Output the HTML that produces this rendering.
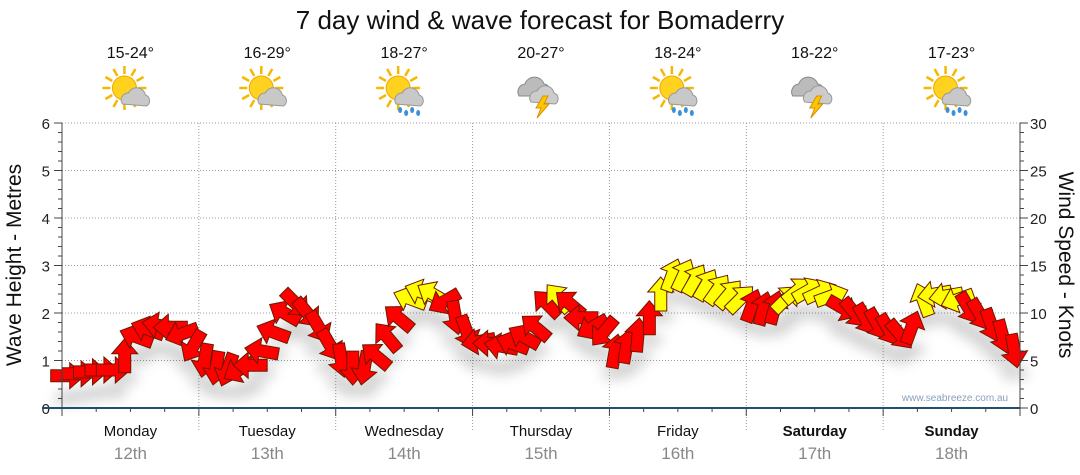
<!DOCTYPE html>
<html><head><meta charset="utf-8"><style>
body{margin:0;background:#fff;font-family:"Liberation Sans",sans-serif}
svg{display:block}
</style></head><body>
<svg id="c" width="1080" height="475" xmlns="http://www.w3.org/2000/svg">
<defs>
<filter id="sh" x="-50%" y="-50%" width="200%" height="200%"><feGaussianBlur stdDeviation="6"/></filter>
</defs>
<text x="540" y="29" font-size="26" text-anchor="middle" fill="#111">7 day wind &amp; wave forecast for Bomaderry</text>
<g id="grid"></g>
<g id="shadow" filter="url(#sh)" opacity="0.25"></g>
<g id="arrows"></g>
<g id="axes"></g>
<g id="days"></g>
<text x="955" y="401" font-size="10" fill="#8aa0b8" text-anchor="middle">www.seabreeze.com.au</text>
<text transform="translate(21,265) rotate(-90)" font-size="21" text-anchor="middle" fill="#111">Wave Height - Metres</text>
<text transform="translate(1059,265) rotate(90)" font-size="21" text-anchor="middle" fill="#111">Wind Speed - Knots</text>
</svg>
<script>
const dayNames=["Monday","Tuesday","Wednesday","Thursday","Friday","Saturday","Sunday"];
const dayDates=["12th","13th","14th","15th","16th","17th","18th"];
const temps=["15-24°","16-29°","18-27°","20-27°","18-24°","18-22°","17-23°"];
const icons=["suncloud","suncloud","sunrain","storm","sunrain","storm","sunrain"];
const leftTicks=[0,1,2,3,4,5,6];
const rightTicks=[0,5,10,15,20,25,30];
// wind speed (knots) every 2 hours, 12 per day
const windSpeed=[3.4,3.6,3.8,4,4,5.5,7.5,8.3,8.7,8.5,7.8,6.5,
 5,4.2,4,4,4.5,6,8,10,11,10,8.5,6.6,
 5,4.2,4.2,5.5,7.5,9.5,11.5,12.2,12,11.2,9.5,8,
 7,6.8,6.5,6.8,7.5,8.5,11,11.6,11,9.5,8.5,8,
 6,6.5,7.7,9.5,12,14,14,13.5,13,12.5,12,11.5,
 10.8,10.5,10.6,11.5,12.4,12.4,12.2,11.8,10.5,10,9.3,8.8,
 8.2,7.7,8.5,11.4,12,11.8,11.4,10.5,9.8,8.7,7.5,6];
// arrow heading in screen degrees (0 = right, 90 = down)
const windDir=[0,0,0,0,0,-90,200,200,190,180,160,120,
 100,100,110,150,180,190,200,210,45,50,60,60,
 80,90,100,220,230,220,200,200,210,150,80,70,
 170,180,190,200,210,220,-135,-130,-140,180,150,130,
 -80,-80,-85,-90,-90,-70,-65,-60,-60,-55,-50,-45,
 -70,-75,-75,-45,-40,-30,-25,-20,30,50,60,60,
 60,50,-70,-110,170,170,160,60,60,70,75,80];
const X0=62,X1=1020,Y0=408,Y1=123,DW=(X1-X0)/7;
const yM=m=>Y0-(Y0-Y1)*m/6, yK=k=>Y0-(Y0-Y1)*k/30;
const xi=i=>X0+(i*2+1)*DW/24;
const NS="http://www.w3.org/2000/svg";
function mk(tag,attrs,parent){const e=document.createElementNS(NS,tag);for(const k in attrs)e.setAttribute(k,attrs[k]);parent.appendChild(e);return e;}
const grid=document.getElementById('grid'),axes=document.getElementById('axes'),days=document.getElementById('days');
leftTicks.forEach((m,i)=>{
 if(m>0){const l=mk('line',{x1:X0,x2:X1,y1:yM(m),y2:yM(m),stroke:'#999','stroke-dasharray':'1,2'},grid);
 }
 const t=mk('text',{x:50,y:yM(m)+6,'font-size':15,'text-anchor':'end',fill:'#222'},axes);t.textContent=m;
 
});
rightTicks.forEach(k=>{const t=mk('text',{x:1030,y:yK(k)+6,'font-size':15,fill:'#222'},axes);t.textContent=k;
 });
for(let d=1;d<7;d++){const l=mk('line',{x1:X0+d*DW,x2:X0+d*DW,y1:Y1,y2:Y0+22,stroke:'#999','stroke-dasharray':'1,2'},grid);
 }
mk('line',{x1:X0,x2:X0,y1:Y1,y2:Y0,stroke:'#444'},axes);
mk('line',{x1:X1,x2:X1,y1:Y1,y2:Y0,stroke:'#444'},axes);
for(let m=0;m<=6.001;m+=0.2){mk('line',{x1:X0-(Math.abs(m-Math.round(m))<0.01?8:4),x2:X0,y1:yM(m),y2:yM(m),stroke:'#444'},axes);}
for(let k=0;k<=30;k++){mk('line',{x1:X1,x2:X1+(k%5?4:8),y1:yK(k),y2:yK(k),stroke:'#444'},axes);}
const xa=mk('line',{x1:X0-20,x2:X1,y1:Y0,y2:Y0,stroke:'#1f4e6e','stroke-width':2},axes);

for(let h=0;h<=7*24;h+=6){mk('line',{x1:X0+h*DW/24,x2:X0+h*DW/24,y1:Y0,y2:Y0+(h%24?4:8),stroke:'#444'},axes);}
dayNames.forEach((n,d)=>{const cx=X0+(d+0.5)*DW;
 const t=mk('text',{x:cx,y:436,'font-size':15,'text-anchor':'middle',fill:'#111','font-weight':d>=5?'bold':'normal'},days);t.textContent=n;
 
 const t2=mk('text',{x:cx,y:459,'font-size':17,'text-anchor':'middle',fill:'#888'},days);t2.textContent=dayDates[d];
 
 const t3=mk('text',{x:cx,y:58,'font-size':16,'text-anchor':'middle',fill:'#111'},days);t3.textContent=temps[d];
 
 const g=mk('g',{transform:`translate(${cx},92)`},days);
 
 const ic=icons[d];
 if(ic!=='storm'){
  for(let a=0;a<360;a+=30){const r=a*Math.PI/180;mk('line',{x1:-6+Math.cos(r)*14,y1:-4+Math.sin(r)*14,x2:-6+Math.cos(r)*22,y2:-4+Math.sin(r)*22,stroke:'#f5b800','stroke-width':2.5},g);}
  mk('circle',{cx:-6,cy:-4,r:12,fill:'#ffd21f',stroke:'#f0a800'},g);
  mk('path',{d:'M-8 12 a7 7 0 0 1 6-11 a9 9 0 0 1 17 2 a6 6 0 0 1 1 11 z',fill:'#c8c8c8',stroke:'#999'},g);
  if(ic==='sunrain'){for(let j=0;j<4;j++)mk('ellipse',{cx:-4+j*6,cy:18+(j%2)*3,rx:2,ry:3,fill:'#3c8fd8'},g);}
 }else{
  mk('path',{d:'M-22 4 a8 8 0 0 1 6-12 a10 10 0 0 1 19 0 a7 7 0 0 1 4 12 z',fill:'#bbb',stroke:'#888'},g);
  mk('path',{d:'M-10 10 a7 7 0 0 1 6-11 a9 9 0 0 1 17 2 a6 6 0 0 1 1 11 z',fill:'#ccc',stroke:'#999'},g);
  mk('path',{d:'M2 4 L-5 16 L0 16 L-4 26 L8 12 L3 12 L7 4 z',fill:'#ffc600',stroke:'#d89000'},g);
 }
});
const arrows=document.getElementById('arrows'),shadow=document.getElementById('shadow');
const shape='M17 0 L2 -13 L2 -6 L-17 -6 L-17 6 L2 6 L2 13 Z';
windSpeed.forEach((k,i)=>{
 const x=xi(i),y=yK(k),col=k>=11.3?'#ffff00':'#ff0000';
 mk('ellipse',{cx:x,cy:y+22,rx:14,ry:7,fill:'#555'},shadow);
 const p=mk('path',{d:shape,transform:`translate(${x},${y}) rotate(${windDir[i]})`,fill:col,stroke:'#6a1a00','stroke-width':1},arrows);
 
 
});
</script>
</body></html>
